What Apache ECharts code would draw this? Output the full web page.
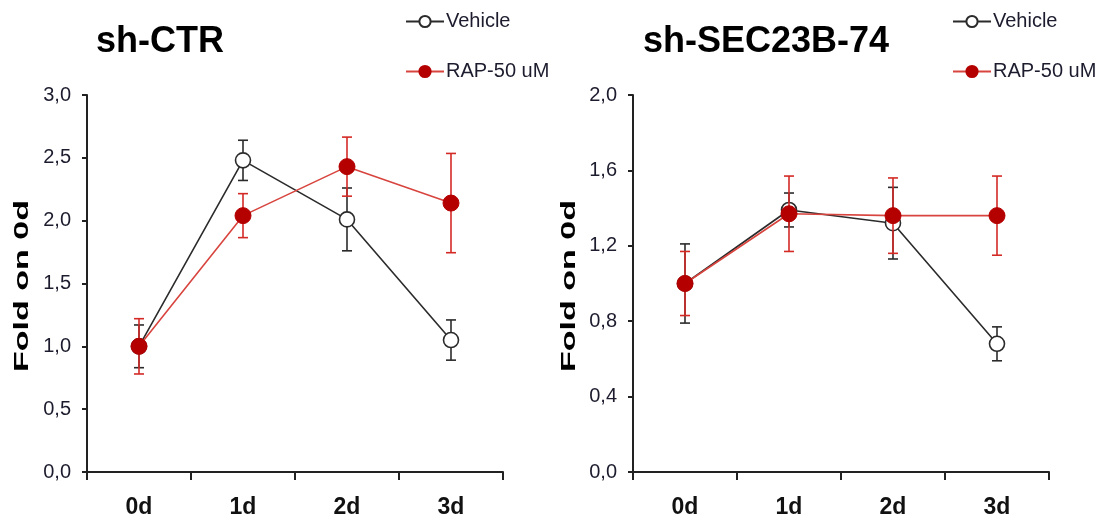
<!DOCTYPE html>
<html>
<head>
<meta charset="utf-8">
<script src="https://cdn.jsdelivr.net/npm/echarts@6/dist/echarts.min.js"></script>
<style>
  html, body { margin: 0; padding: 0; background: #fff; }
  #chart { width: 1098px; height: 524px; }
</style>
</head>
<body>
<div id="chart"></div>
<script>
// Time points shared by both panels
const days = ['0d', '1d', '2d', '3d'];

// sh-CTR panel: means and error half-widths
const ctrVehicle = [1.00, 2.48, 2.01, 1.05];
const ctrVehicleErr = [0.17, 0.16, 0.25, 0.16];
const ctrRap = [1.00, 2.04, 2.43, 2.14];
const ctrRapErr = [0.22, 0.175, 0.235, 0.395];

// sh-SEC23B-74 panel: means and error half-widths
const secVehicle = [1.00, 1.39, 1.32, 0.68];
const secVehicleErr = [0.21, 0.09, 0.19, 0.09];
const secRap = [1.00, 1.37, 1.36, 1.36];
const secRapErr = [0.17, 0.20, 0.20, 0.21];

// Y axis ranges / tick steps
const ctrYMax = 3.0, ctrYStep = 0.5;
const secYMax = 2.0, secYStep = 0.4;

const SANS = "'Liberation Sans', Arial, sans-serif";
const VEH_COLOR = '#2b2b2b';
const RAP_LINE = '#d8443e';
const RAP_MARK = '#b50000';
const RAP_ERR = '#d42a26';

function commaFmt(v) { return v.toFixed(1).replace('.', ','); }

function errData(means, errs) {
  return means.map((m, i) => [i, m + errs[i], m - errs[i]]);
}

function errRender(color) {
  return function (params, api) {
    const x = api.value(0);
    const hi = api.coord([x, api.value(1)]);
    const lo = api.coord([x, api.value(2)]);
    const half = 5;
    const st = { stroke: color, lineWidth: 1.6 };
    return {
      type: 'group',
      children: [
        { type: 'line', shape: { x1: hi[0], y1: hi[1], x2: lo[0], y2: lo[1] }, style: st },
        { type: 'line', shape: { x1: hi[0] - half, y1: hi[1], x2: hi[0] + half, y2: hi[1] }, style: st },
        { type: 'line', shape: { x1: lo[0] - half, y1: lo[1], x2: lo[0] + half, y2: lo[1] }, style: st }
      ]
    };
  };
}

function xAxisCfg(gridIndex) {
  return {
    type: 'category', gridIndex, data: days, boundaryGap: true,
    axisLine: { lineStyle: { color: '#222', width: 2 } },
    axisTick: { show: true, inside: false, length: 8, lineStyle: { color: '#222', width: 2 }, alignWithLabel: false },
    axisLabel: { margin: 24, fontFamily: SANS, fontWeight: 'bold', fontSize: 23, color: '#111' },
    splitLine: { show: false }
  };
}

function yAxisCfg(gridIndex, max, step) {
  return {
    type: 'value', gridIndex, min: 0, max, interval: step,
    axisLine: { show: true, lineStyle: { color: '#222', width: 2 } },
    axisTick: { show: true, inside: false, length: 5, lineStyle: { color: '#222', width: 2 } },
    axisLabel: { margin: 16, fontFamily: SANS, fontSize: 20, color: '#1c1c2e', formatter: commaFmt },
    splitLine: { show: false }
  };
}

function lineSeries(name, data, idx, isRap) {
  return {
    name, type: 'line', data, xAxisIndex: idx, yAxisIndex: idx,
    z: isRap ? 5 : 3,
    symbol: 'circle', symbolSize: isRap ? 16 : 15,
    lineStyle: { color: isRap ? RAP_LINE : VEH_COLOR, width: 1.6 },
    itemStyle: isRap
      ? { color: RAP_MARK, borderColor: RAP_MARK, borderWidth: 1 }
      : { color: '#fff', borderColor: VEH_COLOR, borderWidth: 1.6 },
    emphasis: { disabled: true },
    animation: false
  };
}

function errSeries(name, means, errs, idx, color, z) {
  return {
    name, type: 'custom', xAxisIndex: idx, yAxisIndex: idx, z,
    data: errData(means, errs),
    encode: { x: 0, y: [1, 2] },
    renderItem: errRender(color),
    silent: true, animation: false
  };
}

function legendCfg(left) {
  return {
    orient: 'vertical', left, top: 5,
    itemWidth: 38, itemHeight: 14, itemGap: 27,
    data: ['Vehicle', 'RAP-50 uM'],
    selectedMode: false,
    textStyle: { fontFamily: SANS, fontSize: 20, lineHeight: 23, color: '#1c1c2e', padding: [0, 0, 0, -3] }
  };
}

function yTitle(x) {
  return {
    type: 'text', x, y: 286, rotation: Math.PI / 2, scaleX: 1.7, scaleY: 1,
    style: {
      text: 'Fold on 0d', fontFamily: SANS,
      fontWeight: 'bold', fontSize: 20, fill: '#000',
      align: 'center', verticalAlign: 'middle'
    }
  };
}

const chart = echarts.init(document.getElementById('chart'), null, { renderer: 'canvas' });
chart.setOption({
  backgroundColor: '#fff',
  animation: false,
  title: [
    { text: 'sh-CTR', left: 96, top: 24, padding: 0,
      textStyle: { fontFamily: SANS, fontWeight: 'bold', fontSize: 36, color: '#000' } },
    { text: 'sh-SEC23B-74', left: 643, top: 24, padding: 0,
      textStyle: { fontFamily: SANS, fontWeight: 'bold', fontSize: 36, color: '#000' } }
  ],
  legend: [legendCfg(400), legendCfg(947)],
  grid: [
    { left: 87, top: 95, width: 416, height: 377 },
    { left: 633, top: 95, width: 416, height: 377 }
  ],
  xAxis: [xAxisCfg(0), xAxisCfg(1)],
  yAxis: [yAxisCfg(0, ctrYMax, ctrYStep), yAxisCfg(1, secYMax, secYStep)],
  graphic: [yTitle(22), yTitle(569)],
  series: [
    errSeries('Vehicle SEM', ctrVehicle, ctrVehicleErr, 0, VEH_COLOR, 2),
    lineSeries('Vehicle', ctrVehicle, 0, false),
    errSeries('RAP-50 uM SEM', ctrRap, ctrRapErr, 0, RAP_ERR, 4),
    lineSeries('RAP-50 uM', ctrRap, 0, true),
    errSeries('Vehicle SEM', secVehicle, secVehicleErr, 1, VEH_COLOR, 2),
    lineSeries('Vehicle', secVehicle, 1, false),
    errSeries('RAP-50 uM SEM', secRap, secRapErr, 1, RAP_ERR, 4),
    lineSeries('RAP-50 uM', secRap, 1, true)
  ]
});
</script>
</body>
</html>
